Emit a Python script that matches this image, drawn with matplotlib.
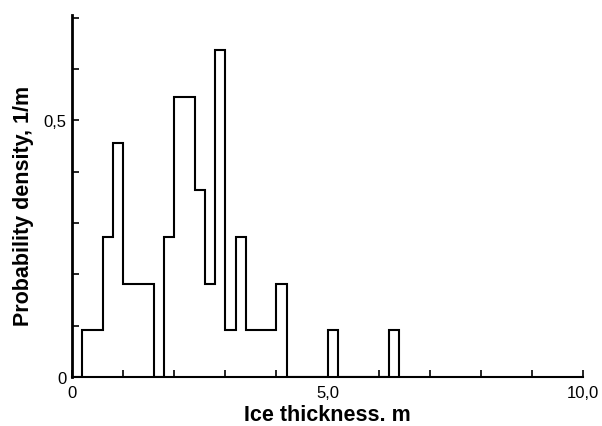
import matplotlib
matplotlib.use("Agg")
import matplotlib.pyplot as plt
import numpy as np

# bin edges (m) and probability density (1/m)
bin_edges = [0.0, 0.2, 0.4, 0.6, 0.8, 1.0, 1.2, 1.4, 1.6, 1.8, 2.0, 2.2, 2.4, 2.6,
             2.8, 3.0, 3.2, 3.4, 3.6, 3.8, 4.0, 4.2, 4.4, 4.6, 4.8, 5.0, 5.2, 5.4,
             5.6, 5.8, 6.0, 6.2, 6.4]
density = [0.0, 0.091, 0.091, 0.273, 0.455, 0.182, 0.182, 0.182, 0.0, 0.273, 0.545,
           0.545, 0.364, 0.182, 0.636, 0.091, 0.273, 0.091, 0.091, 0.091, 0.182,
           0.0, 0.0, 0.0, 0.0, 0.091, 0.0, 0.0, 0.0, 0.0, 0.0, 0.091]

x_ticks = [0, 1, 2, 3, 4, 5, 6, 7, 8, 9, 10]
x_tick_labels = ["0", "", "", "", "", "5,0", "", "", "", "", "10,0"]
y_ticks = [0, 0.1, 0.2, 0.3, 0.4, 0.5, 0.6, 0.7]
y_tick_labels = ["0", "", "", "", "", "0,5", "", ""]

plt.rcParams['font.family'] = ['Liberation Sans', 'DejaVu Sans']

fig = plt.figure(figsize=(6.02, 4.27), dpi=100)
ax = fig.add_axes([72/602, (427-378)/427, (583-72)/602, (378-16)/427])

ax.stairs(density, bin_edges, fill=False, color='black', linewidth=1.5, baseline=0)

ax.set_xlim(0, 10)
ax.set_ylim(0, 0.705)
ax.spines['top'].set_visible(False)
ax.spines['right'].set_visible(False)
ax.spines['left'].set_linewidth(2.0)
ax.spines['bottom'].set_linewidth(1.5)
ax.spines['left'].set_bounds(0, 0.705)

ax.set_xticks(x_ticks)
ax.set_xticklabels(x_tick_labels, fontsize=12)
ax.set_yticks(y_ticks)
ax.set_yticklabels(y_tick_labels, fontsize=12)
ax.tick_params(axis='both', direction='in', length=5, width=1.2, pad=4)
ax.tick_params(axis='x', pad=6)

ax.set_xlabel("Ice thickness. m", fontsize=15.5, fontweight='bold', labelpad=3)
ax.set_ylabel("Probability density, 1/m", fontsize=15.5, fontweight='bold',
              labelpad=7, y=0.475)

fig.savefig("out.png", dpi=100)
